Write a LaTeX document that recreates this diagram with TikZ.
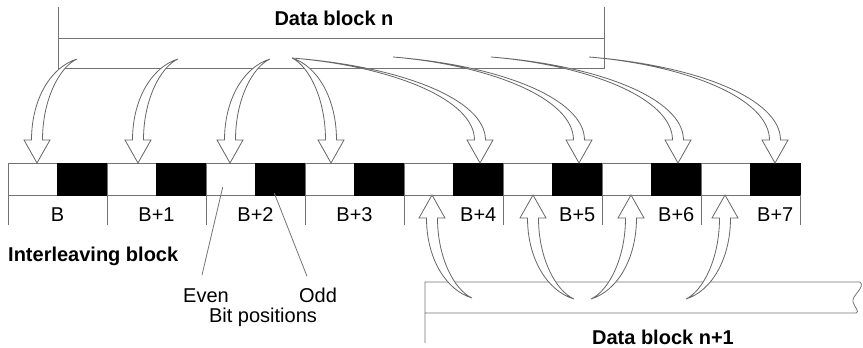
\documentclass[tikz,border=0pt]{standalone}
\usepackage{fontspec}
\setmainfont{Liberation Sans}
\usetikzlibrary{positioning,calc}

\newcommand\swoosh[3]{%
  \draw[hollow] let \p1=(#1), \p2=(#2) in
    (\p1) .. controls ({\x1+0.55*(\x2-\x1)-4.4pt},{\y1+0.1*(\y2#3 23pt-\y1)})
             and ({\x2-5.5pt},{\y1+0.5*(\y2#3 23pt-\y1)}) .. ({\x2-5.5pt},{\y2#3 23pt})
    -- ({\x2-13pt},{\y2#3 23pt}) -- (\p2) -- ({\x2+13pt},{\y2#3 23pt})
    -- ({\x2+5.5pt},{\y2#3 23pt})
    .. controls ({\x2+5.5pt},{\y1+0.5*(\y2#3 23pt-\y1)})
             and ({\x1+0.55*(\x2-\x1)+4.4pt},{\y1+0.1*(\y2#3 23pt-\y1)}) .. (\p1) -- cycle;
}

\begin{document}
\begin{tikzpicture}[
    x=1pt, y=-1pt,
    every node/.style={font=\fontsize{20}{24}\selectfont, inner sep=0pt},
    title/.style={font=\fontsize{20}{24}\selectfont\bfseries},
    evencell/.style={draw=black!55, line width=0.8pt, fill=white, minimum width=49.5pt, minimum height=32pt, outer sep=0pt},
    oddcell/.style={evencell, draw=black, fill=black},
    rule/.style={draw=black!55, line width=0.8pt},
    hollow/.style={draw=black!60, fill=white, line width=0.8pt}
]
\useasboundingbox (0,0) rectangle (863,348);

% data block n
\draw[rule] (58,7) -- (58,68) -- (604,68) -- (604,7);
\draw[rule] (58,38) -- (604,38);
\node[title, anchor=base] (blockn) at (334,25) {Data block n};

% data block n+1
\draw[rule] (425,343) -- (425,282) -- (860,282)
    .. controls (866,287) and (851,296) .. (853,302)
    .. controls (855,308) and (860,312) .. (856,313) -- (425,313);
\node[title, anchor=base] (blockn1) at (663,344) {Data block n+1};

% interleaving block
\foreach \i in {0,...,7} {
  \node[evencell] (e\i) at ({32.75+99*\i},179) {};
  \node[oddcell, right=0pt of e\i] (o\i) {};
  \draw[rule] (e\i.south west) -- ++(0,30);
}
\draw[rule] (o7.south east) -- ++(0,30);
\foreach \i in {0,...,3}
  \node[anchor=base] (b\i) at ([yshift=-26pt]o\i.south west) {\ifnum\i=0 B\else B+\i\fi};
\foreach \i in {4,...,7}
  \node[anchor=base] (b\i) at ([yshift=-26pt]o\i.south) {B+\i};
\node[title, anchor=base west] (ilv) at (8,261) {Interleaving block};

\node[anchor=base] (even) at (206,302) {Even};
\node[anchor=base] (odd) at (318,302) {Odd};
\node[anchor=base] (bitpos) at (263,322) {Bit positions};
\draw[rule] ([xshift=-8pt,yshift=-8pt]e2.center) -- ([xshift=-4pt,yshift=13pt]even.north);
\draw[rule] ([xshift=-6pt,yshift=2pt]o2.south) -- ([xshift=-11pt,yshift=11pt]odd.north);

% arrows
\foreach \tx/\ty/\px [count=\k] in {77/59/37, 178/59/138, 270/59/230, 292/58/331,
    292/58/480, 393/57/579, 491/57/678, 589/57/775} {
  \coordinate (src\k) at (\tx,\ty);
  \coordinate (dst\k) at (\px,163);
  \swoosh{src\k}{dst\k}{+}
}
\foreach \tx/\ty/\px [count=\k] in {472/298/432, 574/299/533, 591/299/631, 686/299/725} {
  \coordinate (up\k) at (\tx,\ty);
  \coordinate (upend\k) at (\px,195);
  \swoosh{up\k}{upend\k}{-}
}
\end{tikzpicture}
\end{document}
